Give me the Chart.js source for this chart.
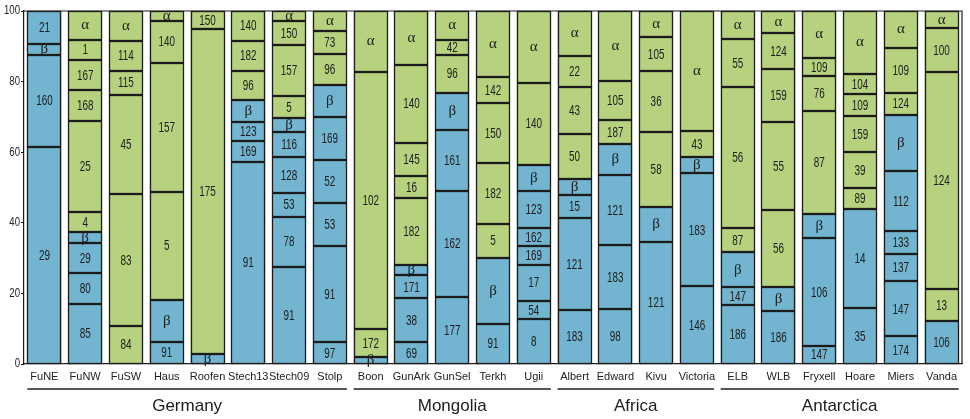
<!DOCTYPE html>
<html>
<head>
<meta charset="utf-8">
<script src="https://cdn.jsdelivr.net/npm/chart.js@4.4.1/dist/chart.umd.min.js"></script>
<style>
  html, body { margin: 0; padding: 0; background: #fff; }
  #wrap { width: 970px; height: 419px; position: relative; }
</style>
</head>
<body>
<div id="wrap"><canvas id="chart"></canvas></div>
<script>
// sites along the x axis and the region each group belongs to
const sites = ['FuNE', 'FuNW', 'FuSW', 'Haus', 'Roofen', 'Stech13', 'Stech09', 'Stolp',
  'Boon', 'GunArk', 'GunSel', 'Terkh', 'Ugii',
  'Albert', 'Edward', 'Kivu', 'Victoria',
  'ELB', 'WLB', 'Fryxell', 'Hoare', 'Miers', 'Vanda'];
const regions = ['Germany', 'Mongolia', 'Africa', 'Antarctica'];
const regionSizes = [8, 5, 4, 6];

// segment heights (percent), bottom to top, one list per site
const segHeights = [
  [61.6, 25.9, 3.2, 9.3],
  [17.0, 8.8, 8.5, 3.0, 5.8, 25.7, 8.8, 8.6, 5.6, 8.2],
  [10.9, 37.2, 28.2, 6.8, 8.5, 8.4],
  [6.2, 12.0, 30.6, 36.6, 11.8, 2.8],
  [2.7, 92.2, 5.1],
  [57.3, 5.8, 5.5, 6.1, 8.4, 8.5, 8.4],
  [27.6, 14.1, 6.8, 10.1, 7.1, 3.9, 6.4, 14.3, 6.9, 2.8],
  [6.1, 27.4, 12.0, 12.2, 12.2, 9.2, 8.8, 6.3, 5.8],
  [1.9, 7.9, 73.0, 17.2],
  [6.1, 12.5, 6.5, 3.0, 18.8, 6.3, 9.5, 22.0, 15.3],
  [19.1, 30.0, 17.1, 10.7, 10.7, 4.2, 8.2],
  [11.4, 18.6, 9.8, 17.0, 17.0, 7.5, 18.7],
  [12.7, 5.2, 10.2, 5.2, 5.2, 10.4, 7.6, 23.2, 20.3],
  [15.3, 26.1, 6.6, 4.3, 12.9, 13.4, 8.7, 12.7],
  [15.6, 18.0, 19.9, 8.9, 6.7, 11.1, 19.8],
  [34.6, 9.9, 21.2, 17.3, 9.5, 7.5],
  [22.0, 32.0, 4.7, 7.3, 34.0],
  [16.7, 5.0, 10.0, 6.8, 40.1, 13.4, 8.0],
  [15.1, 6.6, 21.9, 25.0, 14.9, 10.3, 6.2],
  [5.1, 30.6, 6.9, 29.1, 9.9, 5.1, 13.3],
  [15.8, 28.2, 5.9, 10.1, 10.3, 6.1, 5.8, 17.8],
  [7.8, 15.6, 7.9, 6.5, 16.8, 15.9, 6.4, 12.6, 10.5],
  [12.2, 9.0, 61.6, 12.3, 4.9]
];

// text printed inside each segment
const segLabels = [
  ['29', '160', 'β', '21'],
  ['85', '80', '29', 'β', '4', '25', '168', '167', '1', 'α'],
  ['84', '83', '45', '115', '114', 'α'],
  ['91', 'β', '5', '157', '140', 'α'],
  ['β', '175', '150'],
  ['91', '169', '123', 'β', '96', '182', '140'],
  ['91', '78', '53', '128', '116', 'β', '5', '157', '150', 'α'],
  ['97', '91', '53', '52', '169', 'β', '96', '73', 'α'],
  ['β', '172', '102', 'α'],
  ['69', '38', '171', 'β', '182', '16', '145', '140', 'α'],
  ['177', '162', '161', 'β', '96', '42', 'α'],
  ['91', 'β', '5', '182', '150', '142', 'α'],
  ['8', '54', '17', '169', '162', '123', 'β', '140', 'α'],
  ['183', '121', '15', 'β', '50', '43', '22', 'α'],
  ['98', '183', '121', 'β', '187', '105', 'α'],
  ['121', 'β', '58', '36', '105', 'α'],
  ['146', '183', 'β', '43', 'α'],
  ['186', '147', 'β', '87', '56', '55', 'α'],
  ['186', 'β', '56', '55', '159', '124', 'α'],
  ['147', '106', 'β', '87', '76', '109', 'α'],
  ['35', '14', '89', '39', '159', '109', '104', 'α'],
  ['174', '147', '137', '133', '112', 'β', '124', '109', 'α'],
  ['106', '13', '124', '100', 'α']
];

// number of blue segments at the bottom of each bar, the rest are green
const blueCounts = [4, 4, 0, 2, 1, 4, 6, 6, 1, 4, 4, 2, 7, 4, 4, 2, 3, 3, 2, 3, 2, 6, 1];

const yTicks = [0, 20, 40, 60, 80, 100];

const BLUE = '#73b5d1';
const GREEN = '#b6d27f';
const INK = '#1c1c1c';
const plain = '"Liberation Sans", Arial, sans-serif';
const BAR_PCT = 0.834;

// condensed text: normal font squeezed horizontally
function narrowText(ctx, text, x, y, size, squeeze, align) {
  ctx.save();
  ctx.translate(x, y);
  ctx.scale(squeeze, 1);
  ctx.font = size + 'px ' + plain;
  ctx.textAlign = align;
  ctx.textBaseline = 'middle';
  ctx.fillText(text, 0, 0);
  ctx.restore();
}

// one stacked dataset per layer index
const layers = Math.max(...segHeights.map(s => s.length));
const datasets = [];
for (let i = 0; i < layers; i++) {
  datasets.push({
    data: segHeights.map(s => (i < s.length ? s[i] : null)),
    backgroundColor: blueCounts.map(n => (i < n ? BLUE : GREEN)),
    borderWidth: 0,
    barPercentage: BAR_PCT,
    categoryPercentage: 1.0
  });
}

// outlines and labels of the segments
const segmentText = {
  id: 'segmentText',
  afterDatasetsDraw(chart) {
    const { ctx, chartArea } = chart;
    ctx.save();
    ctx.strokeStyle = INK;
    ctx.lineWidth = 1.3;
    chart.data.datasets.forEach((ds, i) => {
      chart.getDatasetMeta(i).data.forEach((el, j) => {
        if (segLabels[j][i] === undefined) return;
        const w = el.width;
        const x0 = Math.round(el.x - w / 2) + 0.5;
        const x1 = Math.round(el.x + w / 2) - 0.5;
        const yt = Math.round(el.y) + 0.5;
        const yb = Math.round(el.base) - 0.5;
        ctx.strokeRect(x0, yt, x1 - x0, yb - yt);
      });
    });

    ctx.beginPath();
    ctx.rect(chartArea.left, chartArea.top - 1, chartArea.right - chartArea.left, chartArea.bottom - chartArea.top + 14);
    ctx.clip();
    ctx.fillStyle = INK;
    chart.data.datasets.forEach((ds, i) => {
      chart.getDatasetMeta(i).data.forEach((el, j) => {
        const lab = segLabels[j][i];
        if (lab === undefined) return;
        const yc = (el.y + el.base) / 2;
        if (lab === 'α' || lab === 'β') {
          ctx.save();
          ctx.font = '15px "Liberation Serif", serif';
          ctx.textAlign = 'center';
          ctx.textBaseline = 'middle';
          ctx.fillText(lab, el.x, yc);
          ctx.restore();
        } else {
          narrowText(ctx, lab, el.x, yc + 0.5, 15, 0.66, 'center');
        }
      });
    });
    ctx.restore();
  }
};

// frame, y labels, region underlines and region names
const frameAndGroups = {
  id: 'frameAndGroups',
  afterDraw(chart) {
    const { ctx, chartArea } = chart;
    const x = chart.scales.x;
    const y = chart.scales.y;
    ctx.save();
    ctx.strokeStyle = INK;
    ctx.lineWidth = 1.2;
    ctx.beginPath();
    ctx.moveTo(chartArea.left, chartArea.top);
    ctx.lineTo(chartArea.right, chartArea.top);
    ctx.lineTo(chartArea.right, chartArea.bottom);
    ctx.stroke();

    ctx.fillStyle = '#222';
    yTicks.forEach(v => {
      narrowText(ctx, String(v), chartArea.left - 4, y.getPixelForValue(v), 12, 0.8, 'right');
    });

    const half = (x.getPixelForValue(1) - x.getPixelForValue(0)) * BAR_PCT / 2;
    let start = 0;
    regions.forEach((name, r) => {
      const end = start + regionSizes[r] - 1;
      const x0 = x.getPixelForValue(start) - half;
      const x1 = x.getPixelForValue(end) + half;
      ctx.lineWidth = 1.5;
      ctx.beginPath();
      ctx.moveTo(x0, 389);
      ctx.lineTo(x1, 389);
      ctx.stroke();
      ctx.fillStyle = INK;
      ctx.font = '17px ' + plain;
      ctx.textAlign = 'center';
      ctx.textBaseline = 'middle';
      ctx.fillText(name, (x0 + x1) / 2, 406);
      start = end + 1;
    });
    ctx.restore();
  }
};

const ctx = document.getElementById('chart').getContext('2d');
const chart = new Chart(ctx, {
  type: 'bar',
  data: { labels: sites, datasets: datasets },
  options: {
    responsive: true,
    maintainAspectRatio: false,
    animation: false,
    layout: { padding: { top: 11, right: 8, left: 0, bottom: 0 } },
    plugins: {
      legend: { display: false },
      tooltip: { enabled: false }
    },
    scales: {
      x: {
        stacked: true,
        grid: { display: false, drawTicks: false },
        border: { display: true, color: INK, width: 1.2 },
        ticks: {
          color: '#222',
          font: { family: plain, size: 11 },
          padding: 6,
          maxRotation: 0,
          autoSkip: false
        },
        afterFit(scale) { scale.height = 55; }
      },
      y: {
        stacked: true,
        min: 0,
        max: 100,
        afterBuildTicks(scale) { scale.ticks = yTicks.map(v => ({ value: v })); },
        grid: { drawOnChartArea: false, tickLength: 3, color: INK },
        border: { display: true, color: INK, width: 1.2 },
        ticks: { display: false },
        afterFit(scale) { scale.width = 24; }
      }
    }
  },
  plugins: [segmentText, frameAndGroups]
});
</script>
</body>
</html>
